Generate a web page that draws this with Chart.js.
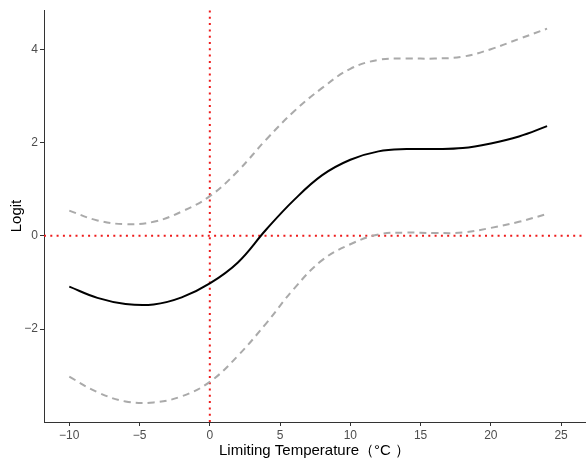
<!DOCTYPE html>
<html>
<head>
<meta charset="utf-8">
<script src="https://cdn.jsdelivr.net/npm/chart.js@4.4.0/dist/chart.umd.min.js"></script>
<style>
    html, body { margin: 0; padding: 0; background: #fff; }
</style>
</head>
<body>
<canvas id="logitChart" width="586" height="460"></canvas>
<script>
// Значения
const temps     = [-10, -8, -6, -4, -2, 0, 2, 4, 6, 8, 10, 12, 14, 16, 18, 20, 22, 24];
const fitLogit  = [-1.09, -1.33, -1.46, -1.47, -1.32, -1.02, -0.57, 0.13, 0.77, 1.30, 1.63, 1.81, 1.86, 1.86, 1.88, 1.98, 2.13, 2.35];
const upperCI   = [0.54, 0.33, 0.25, 0.30, 0.52, 0.85, 1.39, 2.06, 2.67, 3.17, 3.58, 3.77, 3.80, 3.80, 3.84, 4.00, 4.22, 4.44];
const lowerCI   = [-3.02, -3.35, -3.55, -3.57, -3.44, -3.13, -2.57, -1.88, -1.13, -0.52, -0.18, 0.03, 0.07, 0.06, 0.07, 0.17, 0.30, 0.47];

const xTickValues = [-10, -5, 0, 5, 10, 15, 20, 25];
const yTickValues = [-2, 0, 2, 4];
const refX = 0;
const refY = 0;

const xMin = -11.8, xMax = 26.7;
const yMin = -3.99, yMax = 4.84;

function toPoints(ys) {
    return temps.map((t, i) => ({x: t, y: ys[i]}));
}

const minus = v => String(v).replace('-', '\u2212');

const ctx = document.getElementById('logitChart').getContext('2d');
new Chart(ctx, {
    type: 'scatter',
    data: {
        datasets: [
            {
                label: 'upper',
                data: toPoints(upperCI),
                showLine: true,
                borderColor: '#aaaaaa',
                borderWidth: 2,
                borderDash: [7, 5],
                pointRadius: 0,
                tension: 0.4
            },
            {
                label: 'lower',
                data: toPoints(lowerCI),
                showLine: true,
                borderColor: '#aaaaaa',
                borderWidth: 2,
                borderDash: [7, 5],
                pointRadius: 0,
                tension: 0.4
            },
            {
                label: 'fit',
                data: toPoints(fitLogit),
                showLine: true,
                borderColor: '#000000',
                borderWidth: 2,
                pointRadius: 0,
                tension: 0.4
            },
            {
                label: 'hline',
                data: [{x: xMin, y: refY}, {x: xMax, y: refY}],
                showLine: true,
                borderColor: '#ee1c1c',
                borderWidth: 2,
                borderDash: [2, 4.3],
                pointRadius: 0
            },
            {
                label: 'vline',
                data: [{x: refX, y: yMin}, {x: refX, y: yMax}],
                showLine: true,
                borderColor: '#ee1c1c',
                borderWidth: 2,
                borderDash: [2, 4.3],
                pointRadius: 0
            }
        ]
    },
    options: {
        responsive: false,
        animation: false,
        layout: {padding: {top: 10, right: 1, left: 0, bottom: 0}},
        plugins: {
            legend: {display: false},
            tooltip: {enabled: false}
        },
        scales: {
            x: {
                type: 'linear',
                min: xMin,
                max: xMax,
                afterFit: s => { s.height = 38; },
                afterBuildTicks: s => { s.ticks = xTickValues.map(v => ({value: v})); },
                border: {display: true, color: '#333333', width: 1},
                grid: {display: true, drawOnChartArea: false, drawTicks: true, tickLength: 4, color: '#333333'},
                ticks: {
                    color: '#4d4d4d',
                    font: {family: 'Liberation Sans', size: 12},
                    padding: 2,
                    maxRotation: 0,
                    callback: v => minus(v)
                },
                title: {
                    display: true,
                    text: 'Limiting Temperature（°C ）',
                    color: '#000000',
                    font: {family: 'Liberation Sans', size: 15},
                    padding: {top: 0, bottom: 0}
                }
            },
            y: {
                type: 'linear',
                min: yMin,
                max: yMax,
                afterFit: s => { s.width = 44; },
                afterBuildTicks: s => { s.ticks = yTickValues.map(v => ({value: v})); },
                border: {display: true, color: '#333333', width: 1},
                grid: {display: true, drawOnChartArea: false, drawTicks: true, tickLength: 4, color: '#333333'},
                ticks: {
                    color: '#4d4d4d',
                    font: {family: 'Liberation Sans', size: 12},
                    padding: 2,
                    callback: v => minus(v)
                },
                title: {
                    display: true,
                    text: 'Logit',
                    color: '#000000',
                    font: {family: 'Liberation Sans', size: 15},
                    padding: {top: 8, bottom: 0}
                }
            }
        }
    }
});
</script>
</body>
</html>
